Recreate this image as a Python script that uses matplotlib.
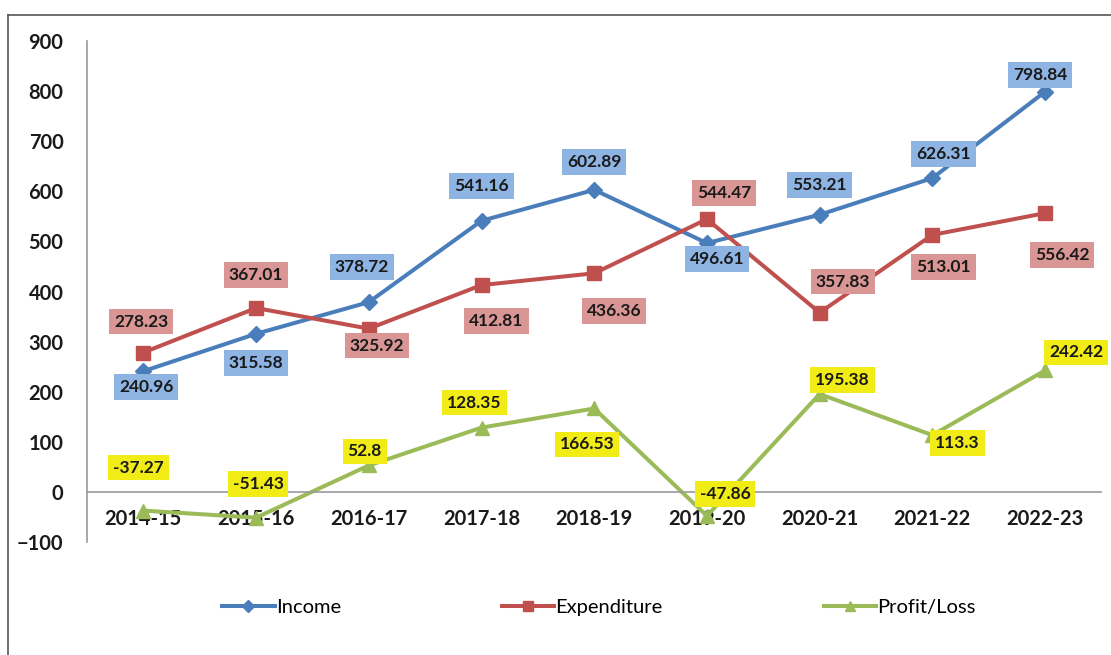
import numpy as np
import matplotlib.pyplot as plt
from matplotlib.lines import Line2D

# DATA -----------------------------------------------------------------------+
years = ['2014-15', '2015-16', '2016-17', '2017-18', '2018-19',
         '2019-20', '2020-21', '2021-22', '2022-23']
income = [240.96, 315.58, 378.72, 541.16, 602.89, 496.61, 553.21, 626.31, 798.84]
expenditure = [278.23, 367.01, 325.92, 412.81, 436.36, 544.47, 357.83, 513.01, 556.42]
profit_loss = [-37.27, -51.43, 52.8, 128.35, 166.53, -47.86, 195.38, 113.3, 242.42]

# label offsets in pixels (dx, dy) from each point
income_off = [(3, -16), (0, -29), (-7, 35), (0, 35), (0, 28), (10, -16), (0, 30), (11, 24), (-5, 17)]
exp_off = [(-2, 31), (0, 33), (8, -17), (15, -36), (20, -38), (17, 26), (23, 31), (11, -32), (17, -42)]
pl_off = [(-5, 43), (2, 34), (-4, 14), (-7, 25), (-7, -36), (18, 22), (23, 14), (25, -8), (31, 18)]

FONT = 'Lato'

# FIGURE ---------------------------------------------------------------------+
fig = plt.figure(figsize=(11.11, 6.55), dpi=100)
ax = fig.add_axes([0.0783, 0.1725, 0.9131, 0.7649])

x = np.arange(len(years))
series = [
    ('Income', income, '#4A7EBB', 'D', 8, '#8EB4E3', income_off),
    ('Expenditure', expenditure, '#C0504D', 's', 10, '#D99694', exp_off),
    ('Profit/Loss', profit_loss, '#9BBB59', '^', 10, '#F2EC16', pl_off),
]
for name, vals, col, mk, ms, box, offs in series:
    ax.plot(x, vals, color=col, lw=2.9, marker=mk, ms=ms, label=name,
            solid_joinstyle='round')
    for xi, v, (dx, dy) in zip(x, vals, offs):
        ax.annotate('%g' % v, (xi, v), xytext=(dx, dy), textcoords='offset pixels',
                    ha='center', va='center', fontsize=12.5, fontweight='bold',
                    family=FONT, color='#1a1a1a',
                    bbox=dict(boxstyle='square,pad=0.28', fc=box, ec='none'))

ax.set_xlim(-0.5, len(years) - 0.5)
ax.set_ylim(-100, 900)
ax.set_yticks(np.arange(-100, 901, 100))
ax.set_xticks(x)
ax.set_xticklabels(years)

for s in ['top', 'right']:
    ax.spines[s].set_visible(False)
ax.spines['left'].set_color('#9a9a9a')
ax.spines['left'].set_linewidth(1.2)
ax.spines['bottom'].set_position(('data', 0))
ax.spines['bottom'].set_color('#9a9a9a')
ax.spines['bottom'].set_linewidth(1.2)
ax.tick_params(axis='both', length=0, labelsize=14.5)
ax.tick_params(axis='y', pad=17)
ax.tick_params(axis='x', pad=12)
for t in ax.get_xticklabels() + ax.get_yticklabels():
    t.set_fontweight('bold')
    t.set_family(FONT)
    t.set_color('#1a1a1a')

# legend along the bottom
leg = fig.legend(loc='center', bbox_to_anchor=(0.539, 0.073), ncol=3, frameon=False,
                 handlelength=2.6, handletextpad=0.05, columnspacing=8.0,
                 prop={'family': FONT, 'size': 14.5}, markerscale=0.75)

# outer frame (top and left edges)
fig.add_artist(Line2D([8 / 1111, 1.0], [1 - 15 / 655, 1 - 15 / 655], color='#555555', lw=1.2))
fig.add_artist(Line2D([8 / 1111, 8 / 1111], [0.0, 1 - 15 / 655], color='#555555', lw=1.2))

plt.savefig('out.png')
